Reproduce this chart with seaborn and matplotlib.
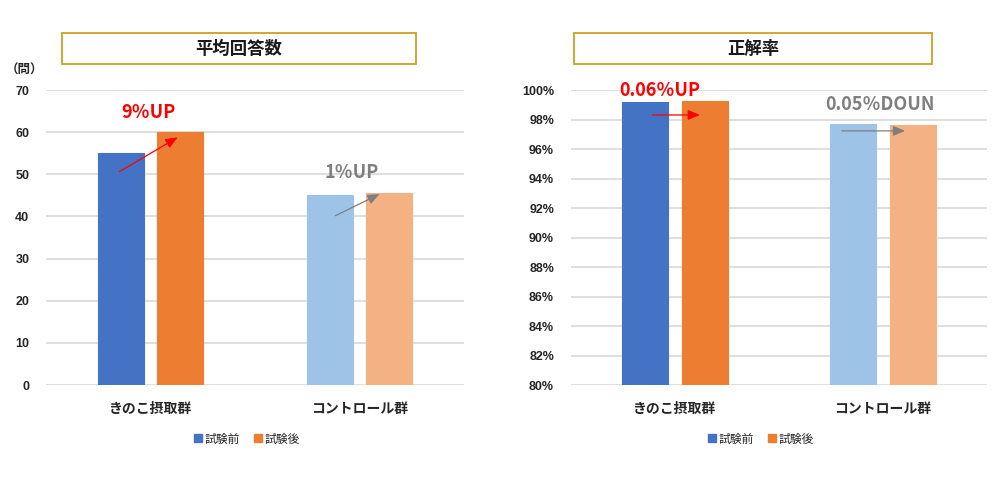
import matplotlib
matplotlib.use("Agg")
import matplotlib.pyplot as plt
import seaborn as sns
import pandas as pd
from matplotlib.patches import Rectangle
from matplotlib.lines import Line2D

# ---- data ----
groups = ["きのこ摂取群", "コントロール群"]
phases = ["試験前", "試験後"]
avg_answers_before = [55.0, 45.1]
avg_answers_after = [60.0, 45.6]
accuracy_before = [99.19, 97.70]
accuracy_after = [99.26, 97.65]
title_left = "平均回答数"
title_right = "正解率"
left_ticks = [0, 10, 20, 30, 40, 50, 60, 70]
right_ticks = [80, 82, 84, 86, 88, 90, 92, 94, 96, 98, 100]
left_notes = ["9％UP", "1％UP"]
right_notes = ["0.06％UP", "0.05％DOUN"]

sns.set_theme(style="white")
plt.rcParams['font.family'] = ['Noto Sans CJK JP', 'DejaVu Sans']

dark = {"試験前": "#4472C4", "試験後": "#ED7D31"}
light = {"試験前": "#9DC3E6", "試験後": "#F4B183"}
red = "#FF0000"
gray = "#7F7F7F"
gold = "#CFA020"

fig = plt.figure(figsize=(10, 4.87), dpi=100)
axL = fig.add_axes([0.046, 0.2094, 0.418, 0.6057])
axR = fig.add_axes([0.5707, 0.2094, 0.4163, 0.6057])

def make_df(before, after):
    rows = []
    for g, b, a in zip(groups, before, after):
        rows.append({"群": g, "時期": phases[0], "値": b})
        rows.append({"群": g, "時期": phases[1], "値": a})
    return pd.DataFrame(rows)

def draw(ax, df, ylim, ticks, fmt):
    sns.barplot(data=df, x="群", y="値", hue="時期", order=groups, hue_order=phases,
                palette=dark, width=0.574, gap=0.233, ax=ax, legend=False,
                errorbar=None, linewidth=0.8, saturation=1)
    for cont, ph in zip(ax.containers, phases):
        for i, bar in enumerate(cont):
            col = dark[ph] if i == 0 else light[ph]
            bar.set_facecolor(col)
            bar.set_edgecolor(col)
    ax.set_ylim(*ylim)
    ax.set_xlim(-0.5, 1.5)
    ax.set_yticks(ticks)
    ax.set_yticklabels([fmt(t) for t in ticks], fontsize=9, fontweight="bold",
                       family=['Liberation Sans', 'DejaVu Sans'])
    ax.set_xticks(range(len(groups)))
    ax.set_xticklabels(groups, fontsize=10, fontweight="bold")
    ax.tick_params(axis="x", pad=12.5, length=0)
    ax.tick_params(axis="y", pad=12, length=0)
    ax.set_xlabel("")
    ax.set_ylabel("")
    for s in ax.spines.values():
        s.set_visible(False)
    ax.grid(axis="y", color="#D9D9D9", linewidth=1.2)
    ax.set_axisbelow(True)

draw(axL, make_df(avg_answers_before, avg_answers_after), (0, 70), left_ticks, lambda t: f"{t}")
draw(axR, make_df(accuracy_before, accuracy_after), (80, 100), right_ticks, lambda t: f"{t}%")

def legend(ax, x):
    handles = [Line2D([0], [0], marker="s", linestyle="", markersize=6,
                      markerfacecolor=dark[p], markeredgecolor=dark[p]) for p in phases]
    ax.legend(handles, phases, loc="center", bbox_to_anchor=(x, -0.183), ncol=2,
              frameon=False, fontsize=8.5, handletextpad=0.1, columnspacing=1.0,
              handlelength=1.0)

legend(axL, 0.478)
legend(axR, 0.455)

# annotations
arrow_kw = dict(arrowstyle="-|>,head_length=0.6,head_width=0.25", lw=0.9)
axL.annotate("", xy=(0.141, 59.1), xytext=(-0.16, 50.3),
             arrowprops=dict(color=red, **arrow_kw))
axL.text(-0.01, 64.6, left_notes[0], color=red, fontsize=13, fontweight="bold",
         ha="center", va="center")
axL.annotate("", xy=(1.108, 45.6), xytext=(0.873, 39.9),
             arrowprops=dict(color=gray, **arrow_kw))
axL.text(0.964, 50.5, left_notes[1], color=gray, fontsize=13, fontweight="bold",
         ha="center", va="center")

axR.annotate("", xy=(0.134, 98.31), xytext=(-0.12, 98.31),
             arrowprops=dict(color=red, **arrow_kw))
axR.text(-0.07, 99.95, right_notes[0], color=red, fontsize=13, fontweight="bold",
         ha="center", va="center")
axR.annotate("", xy=(1.12, 97.23), xytext=(0.79, 97.23),
             arrowprops=dict(color=gray, **arrow_kw))
axR.text(0.986, 99.0, right_notes[1], color=gray, fontsize=13, fontweight="bold",
         ha="center", va="center")

# title boxes
for (x0, x1, t) in [(0.062, 0.416, title_left), (0.574, 0.932, title_right)]:
    fig.patches.append(Rectangle((x0, 0.8686), x1 - x0, 0.0636, transform=fig.transFigure,
                                 facecolor="white", edgecolor=gold, linewidth=1.3))
    fig.text((x0 + x1) / 2, 0.9004, t, ha="center", va="center", fontsize=12.5,
             fontweight="bold", color="#1a1a1a")

fig.text(0.025, 0.856, "（問）", ha="center", va="center", fontsize=9, fontweight="bold")

fig.savefig("out.png", dpi=100, facecolor="white")
